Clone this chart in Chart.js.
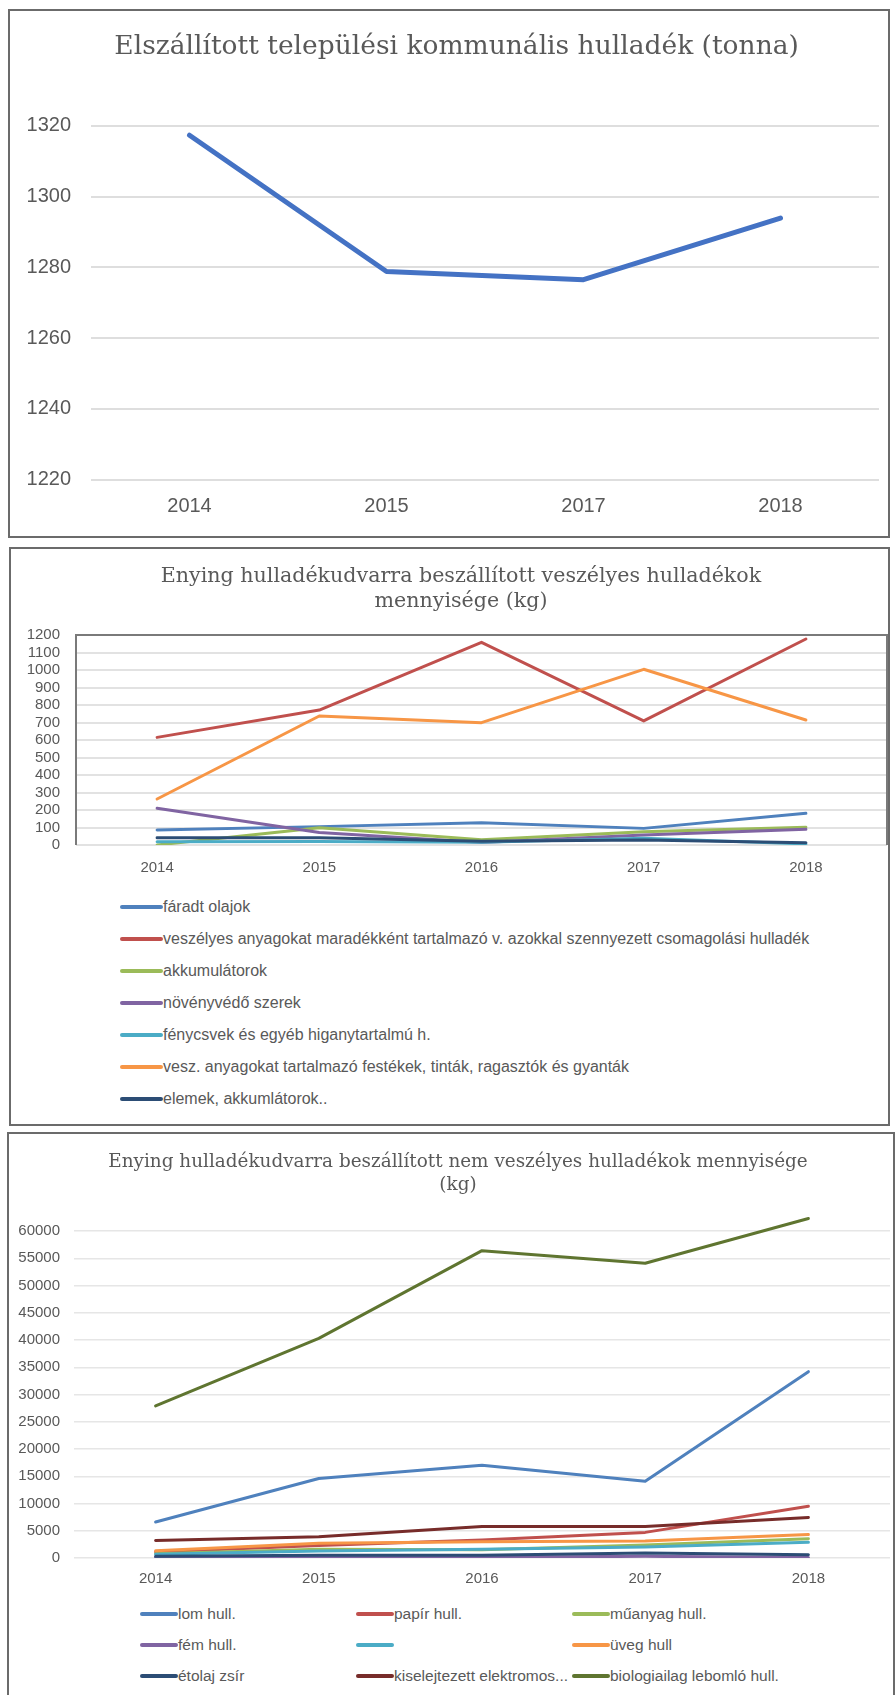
<!DOCTYPE html>
<html>
<head>
<meta charset="utf-8">
<script src="https://cdn.jsdelivr.net/npm/chart.js@4.4.0/dist/chart.umd.min.js"></script>
<style>
  body { margin: 0; background: #fff; width: 895px; height: 1695px; overflow: hidden; position: relative; font-family: 'Liberation Sans', Arial, sans-serif; }
  .panel { position: absolute; border: 2px solid #6b6b6b; box-sizing: border-box; background: #fff; }
  .panel canvas { position: absolute; left: 0; top: 0; }
  .title { position: absolute; left: 0; text-align: center; color: #595959; font-family: 'DejaVu Serif', 'Liberation Serif', serif; white-space: nowrap; }
  #title1 { width: 893.2px; top: 17.9px; font-size: 26.5px; line-height: 31.8px; }
  #title2 { width: 900px; top: 13.5px; font-size: 20.6px; line-height: 25px; }
  #title3 { width: 898px; top: 14.5px; font-size: 18.4px; line-height: 23px; }
  .legend { position: absolute; color: #595959; }
  .legend .item { display: flex; align-items: center; white-space: nowrap; }
  .legend .swatch { display: inline-block; height: 4px; border-radius: 2px; flex: none; }
  #legend2 { font-size: 16px; }
  #legend2 .item { height: 32.1px; }
  #legend2 .swatch { width: 43px; }
  #legend3 { font-size: 15.5px; display: grid; grid-template-columns: 216px 216px 216px; }
  #legend3 .item { height: 31px; }
  #legend3 .swatch { width: 38px; }
</style>
</head>
<body>

<div class="panel" id="p1" style="left:8px; top:9px; width:882px; height:529px;">
  <canvas id="chart1" width="878" height="525"></canvas>
  <div class="title" id="title1">Elszállított települési kommunális hulladék (tonna)</div>
</div>

<div class="panel" id="p2" style="left:9px; top:547px; width:881px; height:579px;">
  <canvas id="chart2" width="877" height="340"></canvas>
  <div class="title" id="title2">Enying hulladékudvarra beszállított veszélyes hulladékok<br>mennyisége (kg)</div>
  <div class="legend" id="legend2" style="left:109px; top:341.6px;"></div>
</div>

<div class="panel" id="p3" style="left:7px; top:1132px; width:888px; height:600px;">
  <canvas id="chart3" width="884" height="465"></canvas>
  <div class="title" id="title3">Enying hulladékudvarra beszállított nem veszélyes hulladékok mennyisége<br>(kg)</div>
  <div class="legend" id="legend3" style="left:131px; top:464.8px;"></div>
</div>

<script>
// --- kommunális hulladék (tonna)
const evek1 = ['2014', '2015', '2017', '2018'];
const kommunalis = [1317.3, 1278.8, 1276.5, 1293.9];

// --- veszélyes hulladékok (kg)
const evek = ['2014', '2015', '2016', '2017', '2018'];
const faradtOlajok = [86, 105, 127, 95, 181];
const csomagolasi = [615, 771, 1158, 709, 1177];
const akkumulatorok = [0, 99, 30, 76, 101];
const novenyvedo = [210, 72, 14, 57, 90];
const fenycsovek = [19, 20, 15, 38, 6];
const festekek = [263, 737, 699, 1004, 714];
const elemek = [42, 41, 22, 29, 13];
const veszelyesNevek = [
    'fáradt olajok',
    'veszélyes anyagokat maradékként tartalmazó v. azokkal szennyezett csomagolási hulladék',
    'akkumulátorok',
    'növényvédő szerek',
    'fénycsvek és egyéb higanytartalmú h.',
    'vesz. anyagokat tartalmazó festékek, tinták, ragasztók és gyanták',
    'elemek, akkumlátorok..'
];

// --- nem veszélyes hulladékok (kg)
const lom = [6600, 14600, 17000, 14100, 34200];
const papir = [1100, 2300, 3300, 4700, 9500];
const muanyag = [800, 1600, 1500, 2400, 3550];
const fem = [150, 250, 150, 300, 100];
const egyeb = [700, 1300, 1600, 2000, 2900];
const uveg = [1350, 2700, 3000, 3100, 4300];
const etolaj = [300, 500, 500, 900, 600];
const elektromos = [3200, 3900, 5800, 5800, 7450];
const biologiai = [27900, 40300, 56400, 54100, 62300];
const nemVeszelyesNevek = [
    'lom hull.', 'papír hull.', 'műanyag hull.',
    'fém hull.', '', 'üveg hull',
    'étolaj zsír', 'kiselejtezett elektromos...', 'biologiailag lebomló hull.'
];

const szinek = ['#4f81bd', '#c0504d', '#9bbb59', '#8064a2', '#4bacc6', '#f79646', '#2c4d75', '#772c2a', '#5f7530'];
const szurke = '#595959';
const tengelyBetu = "'Liberation Sans', Arial, sans-serif";

// frame around the plot area (top, left and right edges)
const plotFrame = {
    id: 'plotFrame',
    beforeDatasetsDraw(chart, args, opts) {
        if (!opts.color) return;
        const { ctx, chartArea: a } = chart;
        ctx.save();
        ctx.strokeStyle = opts.color;
        ctx.lineWidth = opts.width;
        ctx.beginPath();
        ctx.moveTo(a.left, a.bottom);
        ctx.lineTo(a.left, a.top);
        ctx.lineTo(a.right, a.top);
        ctx.lineTo(a.right, a.bottom);
        ctx.stroke();
        ctx.restore();
    }
};

function makeDatasets(names, series, width) {
    // later series on top, like the spreadsheet
    return series.map((data, i) => ({
        label: names[i],
        data: data,
        borderColor: szinek[i],
        backgroundColor: szinek[i],
        borderWidth: width,
        pointRadius: 0,
        tension: 0,
        borderCapStyle: 'round',
        borderJoinStyle: 'round',
        order: -i
    }));
}

function makeOptions(o) {
    return {
        responsive: false,
        animation: false,
        layout: { padding: { top: o.padTop, left: 0, bottom: 0, right: o.padRight } },
        plugins: {
            legend: { display: false },
            tooltip: { enabled: false },
            plotFrame: o.frame || {}
        },
        scales: {
            x: {
                offset: true,
                grid: { display: false, drawTicks: false },
                border: { display: false },
                ticks: { color: szurke, font: { family: tengelyBetu, size: o.tickSize }, padding: o.xPad, maxRotation: 0, autoSkip: false },
                afterFit: (s) => { s.height = o.xHeight; }
            },
            y: {
                min: o.min,
                max: o.max,
                grid: { color: o.gridColor, lineWidth: o.gridWidth, drawTicks: false },
                border: { display: false },
                ticks: {
                    stepSize: o.step, color: szurke, font: { family: tengelyBetu, size: o.tickSize },
                    padding: o.yPad, autoSkip: false,
                    callback: (v) => String(v)
                },
                afterBuildTicks: (s) => { s.ticks = s.ticks.filter(t => t.value <= o.lastTick); },
                afterFit: (s) => { s.width = o.yWidth; }
            }
        }
    };
}

function buildLegend(chart, el) {
    chart.data.datasets.forEach(ds => {
        const item = document.createElement('div');
        item.className = 'item';
        const sw = document.createElement('span');
        sw.className = 'swatch';
        sw.style.background = ds.borderColor;
        const tx = document.createElement('span');
        tx.textContent = ds.label;
        item.append(sw, tx);
        el.append(item);
    });
}

// chart 1
new Chart(document.getElementById('chart1'), {
    type: 'line',
    data: {
        labels: evek1,
        datasets: [{
            label: 'tonna',
            data: kommunalis,
            borderColor: '#4472c4',
            borderWidth: 5,
            pointRadius: 0,
            tension: 0,
            borderCapStyle: 'round',
            borderJoinStyle: 'round'
        }]
    },
    options: makeOptions({
        padTop: 114.7, padRight: 9, tickSize: 20, xPad: 14.3, xHeight: 56.3, yPad: 20, yWidth: 81,
        min: 1220, max: 1320, step: 20, lastTick: 1320,
        gridColor: '#dedede', gridWidth: 2
    })
});

// chart 2
const chart2 = new Chart(document.getElementById('chart2'), {
    type: 'line',
    data: {
        labels: evek,
        datasets: makeDatasets(veszelyesNevek,
            [faradtOlajok, csomagolasi, akkumulatorok, novenyvedo, fenycsovek, festekek, elemek], 3)
    },
    options: makeOptions({
        padTop: 86, padRight: 1, tickSize: 15, xPad: 14, xHeight: 44, yPad: 16, yWidth: 65,
        min: 0, max: 1200, step: 100, lastTick: 1200,
        gridColor: '#e2e2e2', gridWidth: 2,
        frame: { color: '#7a7a7a', width: 2 }
    }),
    plugins: [plotFrame]
});
buildLegend(chart2, document.getElementById('legend2'));

// chart 3
const chart3 = new Chart(document.getElementById('chart3'), {
    type: 'line',
    data: {
        labels: evek,
        datasets: makeDatasets(nemVeszelyesNevek,
            [lom, papir, muanyag, fem, egyeb, uveg, etolaj, elektromos, biologiai], 3)
    },
    options: makeOptions({
        padTop: 69.8, padRight: 3, tickSize: 15, xPad: 12, xHeight: 41, yPad: 14, yWidth: 65,
        min: 0, max: 65000, step: 5000, lastTick: 60000,
        gridColor: '#e6e6e6', gridWidth: 1.5
    })
});
buildLegend(chart3, document.getElementById('legend3'));
</script>
</body>
</html>
